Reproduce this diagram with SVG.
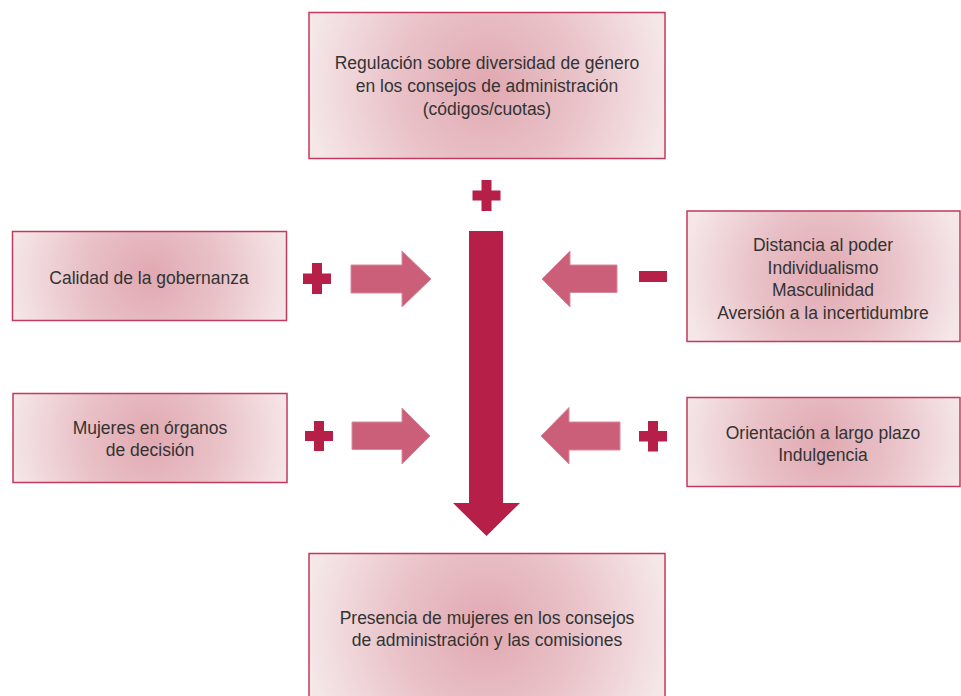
<svg xmlns="http://www.w3.org/2000/svg" width="961" height="696" viewBox="0 0 961 696">
<defs>
<radialGradient id="g">
<stop offset="0" stop-color="#E1A8B1"/>
<stop offset="0.5" stop-color="#E9C2C8"/>
<stop offset="1" stop-color="#F5E6E8"/>
</radialGradient>
<radialGradient id="g1" href="#g" gradientUnits="userSpaceOnUse" cx="487" cy="85" r="180"/>
<radialGradient id="g2" href="#g" gradientUnits="userSpaceOnUse" cx="150" cy="276" r="140"/>
<radialGradient id="g3" href="#g" gradientUnits="userSpaceOnUse" cx="823" cy="276" r="140"/>
<radialGradient id="g4" href="#g" gradientUnits="userSpaceOnUse" cx="150" cy="438" r="140"/>
<radialGradient id="g5" href="#g" gradientUnits="userSpaceOnUse" cx="823" cy="442" r="140"/>
<radialGradient id="g6" href="#g" gradientUnits="userSpaceOnUse" cx="487" cy="628" r="180"/>
<style>
.box{stroke:#C23A5E;stroke-width:1.5}
.t{font-family:"Liberation Sans",Arial,sans-serif;font-size:17.5px;fill:#333333;text-anchor:middle}
.sign{fill:#B61F48}
.arr{fill:#CB5E78;stroke:#D9899B;stroke-width:1}
.big{fill:#B61F48}
</style>
</defs>
<rect width="961" height="696" fill="#FFFFFF"/>

<g id="regulacion">
<rect class="box" fill="url(#g1)" x="309" y="12.5" width="356" height="146"/>
<text class="t" x="487" y="69">Regulación sobre diversidad de género</text>
<text class="t" x="487" y="92">en los consejos de administración</text>
<text class="t" x="487" y="115">(códigos/cuotas)</text>
</g>

<g id="calidad">
<rect class="box" fill="url(#g2)" x="12.5" y="231.5" width="274" height="89"/>
<text class="t" x="149" y="284">Calidad de la gobernanza</text>
</g>

<g id="cultura">
<rect class="box" fill="url(#g3)" x="687" y="211" width="273" height="130.5"/>
<text class="t" x="823" y="251">Distancia al poder</text>
<text class="t" x="823" y="274">Individualismo</text>
<text class="t" x="823" y="296">Masculinidad</text>
<text class="t" x="823" y="319">Aversión a la incertidumbre</text>
</g>

<g id="mujeres">
<rect class="box" fill="url(#g4)" x="13" y="393.5" width="274" height="89"/>
<text class="t" x="150" y="434">Mujeres en órganos</text>
<text class="t" x="150" y="456">de decisión</text>
</g>

<g id="orientacion">
<rect class="box" fill="url(#g5)" x="687" y="397.5" width="273" height="89"/>
<text class="t" x="823" y="439">Orientación a largo plazo</text>
<text class="t" x="823" y="461">Indulgencia</text>
</g>

<g id="presencia">
<rect class="box" fill="url(#g6)" x="309" y="553.5" width="356" height="150"/>
<text class="t" x="487" y="624">Presencia de mujeres en los consejos</text>
<text class="t" x="487" y="646">de administración y las comisiones</text>
</g>

<g id="connectors">
<polygon class="big" points="469,231 503,231 503,503 520,503 486.5,536 453,503 469,503"/>
<polygon class="arr" points="351,265 402,265 402,251 431,279 402,307 402,293 351,293"/>
<polygon class="arr" points="352,422 402,422 402,408 430,436 402,464 402,449.5 352,449.5"/>
<polygon class="arr" points="617,265 570,265 570,251 542,279 570,307 570,292.5 617,292.5"/>
<polygon class="arr" points="620,422 569,422 569,407.5 541,436 569,464 569,450 620,450"/>
<g id="signs">
<path class="sign" d="M481.5,180h10v10.5h9v10h-9v10.5h-10v-10.5h-9v-10h9z"/>
<path class="sign" d="M312,263h10v10.5h9v10.5h-9v10h-10v-10h-9v-10.5h9z"/>
<path class="sign" d="M314,421h10v10h9v10h-9v10h-10v-10h-9v-10h9z"/>
<path class="sign" d="M648,421h10v10h9v10.5h-9v10h-10v-10h-9v-10.5h9z"/>
<rect class="sign" x="639" y="271" width="28" height="11"/>
</g>
</g>
</svg>
